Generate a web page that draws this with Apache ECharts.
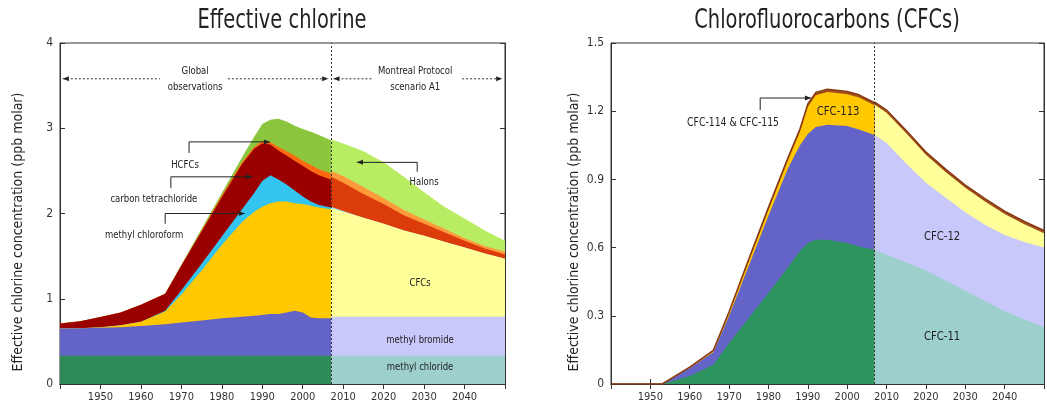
<!DOCTYPE html>
<html>
<head>
<meta charset="utf-8">
<script src="https://cdn.jsdelivr.net/npm/echarts@6/dist/echarts.min.js"></script>
<style>
html,body{margin:0;padding:0;background:#fff}
#main{width:1047px;height:408px}
</style>
</head>
<body>
<div id="main"></div>
<script>
var FONT = "'Liberation Sans Narrow','DejaVu Sans Condensed','Liberation Sans',sans-serif";

// left panel - effective chlorine (ppb), observed part
var leftObsYears = [1940,1945,1950,1955,1960,1966,1970,1975,1980,1985,1988,1990,1992,1994,1996,1998,2000,2002,2004,2007];
var methylChlorideObs = [.33,.33,.33,.33,.33,.33,.33,.33,.33,.33,.33,.33,.33,.33,.33,.33,.33,.33,.33,.33];
var methylBromideObs = [.32,.325,.33,.335,.35,.37,.39,.415,.44,.46,.47,.48,.49,.49,.51,.53,.51,.45,.44,.44];
var cfcObs = [0,0,.005,.025,.05,.15,.33,.585,.86,1.11,1.22,1.27,1.30,1.32,1.30,1.26,1.27,1.31,1.30,1.28];
var methylChloroformObs = [0,0,0,0,0,.01,.05,.08,.10,.15,.22,.30,.33,.26,.2,.15,.09,.05,.03,.02];
var carbonTetObs = [.06,.08,.12,.15,.2,.2,.29,.38,.46,.53,.52,.44,.36,.34,.34,.35,.36,.36,.35,.33];
var hcfcObs = [0,0,0,0,0,0,0,.01,.02,.02,.02,.03,.03,.04,.05,.06,.06,.07,.07,.07];
var halonObs = [0,0,0,0,0,0,.01,.02,.03,.06,.12,.20,.26,.33,.35,.35,.37,.39,.40,.39];

// left panel - scenario A1
var leftProjYears = [2007,2010,2015,2020,2025,2030,2035,2040,2045,2050];
var methylChlorideProj = [.33,.33,.33,.33,.33,.33,.33,.33,.33,.33];
var methylBromideProj = [.46,.46,.46,.46,.46,.46,.46,.46,.46,.46];
var cfcProj = [1.27,1.23,1.16,1.09,1.01,.95,.88,.81,.74,.68];
var methylChloroformProj = [.02,.01,0,0,0,0,0,0,0,0];
var carbonTetProj = [.35,.33,.28,.23,.18,.14,.11,.08,.06,.05];
var hcfcProj = [.07,.08,.08,.07,.06,.05,.04,.03,.03,.03];
var halonProj = [.37,.38,.42,.42,.39,.32,.26,.23,.18,.13];

// right panel - CFCs
var rightObsYears = [1940,1950,1953,1960,1966,1970,1975,1980,1985,1988,1990,1992,1995,2000,2003,2007];
var cfc11Obs = [0,0,0,.035,.085,.18,.29,.40,.515,.585,.62,.635,.635,.62,.605,.59];
var cfc12Obs = [0,0,0,.035,.055,.12,.23,.34,.435,.465,.48,.495,.505,.515,.515,.505];
var cfc113Obs = [0,0,0,.002,.004,.01,.02,.025,.035,.06,.12,.14,.145,.14,.14,.13];
var cfc114Obs = [0,0,0,.002,.004,.008,.01,.012,.012,.012,.012,.012,.012,.012,.012,.012];

var rightProjYears = [2007,2010,2015,2020,2025,2030,2035,2040,2045,2050];
var cfc11Proj = [.59,.57,.535,.5,.455,.41,.365,.32,.285,.25];
var cfc12Proj = [.505,.49,.435,.385,.365,.345,.335,.335,.34,.35];
var cfc113Proj = [.133,.133,.133,.123,.113,.108,.103,.093,.078,.063];
var cfc114Proj = [.012,.012,.012,.012,.012,.012,.012,.012,.012,.012];

var xTicks = [1950,1960,1970,1980,1990,2000,2010,2020,2030,2040];

// stacked layers: sums done here, top layer pushed first so lower ones paint over it
function layers(gi, xs, list) {
    var out = [];
    var cum = [];
    var run = xs.map(function () { return 0; });
    list.forEach(function (l) {
        run = run.map(function (s, i) { return s + l.vals[i]; });
        cum.push(run.slice());
    });
    for (var k = list.length - 1; k >= 0; k--) {
        out.push({
            type: 'line',
            xAxisIndex: gi * 2,
            yAxisIndex: gi * 2,
            symbol: 'none',
            silent: true,
            lineStyle: list[k].line || { width: 0 },
            areaStyle: { color: list[k].color, opacity: 1, origin: 'start' },
            data: xs.map(function (x, i) { return [x, cum[k][i]]; })
        });
    }
    return out;
}

var divider = {
    silent: true,
    symbol: 'none',
    label: { show: false },
    lineStyle: { type: [2, 2], color: '#333', width: 1 },
    data: [{ xAxis: 2007 }]
};

function axisPair(gi, ymax, yint, yfmt) {
    var tick = { inside: true, length: 5, lineStyle: { color: '#333' } };
    var aline = { lineStyle: { color: '#333', width: 1 } };
    var x = [
        { gridIndex: gi, type: 'value', min: 1940, max: 2050, interval: 10, axisLine: aline, axisTick: tick, splitLine: { show: false },
          axisLabel: { color: '#333', fontSize: 11, fontFamily: FONT, margin: 8,
            formatter: function (v) { return xTicks.indexOf(v) >= 0 ? String(v) : ''; } } },
        { gridIndex: gi, type: 'value', position: 'top', min: 1940, max: 2050, interval: 10, axisLine: aline, axisTick: tick,
          axisLabel: { show: false }, splitLine: { show: false } }
    ];
    var y = [
        { gridIndex: gi, type: 'value', min: 0, max: ymax, interval: yint, axisLine: aline, axisTick: tick, splitLine: { show: false },
          axisLabel: { color: '#333', fontSize: 12, fontFamily: FONT, margin: 7, formatter: yfmt } },
        { gridIndex: gi, type: 'value', position: 'right', min: 0, max: ymax, interval: yint, axisLine: aline, axisTick: tick,
          axisLabel: { show: false }, splitLine: { show: false } }
    ];
    return { x: x, y: y };
}

var a0 = axisPair(0, 4, 1, function (v) { return String(v); });
var a1 = axisPair(1, 1.5, 0.3, function (v) { return v === 0 ? '0' : v.toFixed(1); });

var topLine = { width: 1.5, color: '#8a3a12' };

var leftObs = layers(0, leftObsYears, [
    { vals: methylChlorideObs, color: '#2e8b57' },
    { vals: methylBromideObs, color: '#6464c8' },
    { vals: cfcObs, color: '#ffc800' },
    { vals: methylChloroformObs, color: '#33c4f0' },
    { vals: carbonTetObs, color: '#9b0000' },
    { vals: hcfcObs, color: '#ff6a13' },
    { vals: halonObs, color: '#8cc63e' }
]);
var leftProj = layers(0, leftProjYears, [
    { vals: methylChlorideProj, color: '#9dd0cc' },
    { vals: methylBromideProj, color: '#c8c8fa' },
    { vals: cfcProj, color: '#ffff9a' },
    { vals: methylChloroformProj, color: '#a0e4f8' },
    { vals: carbonTetProj, color: '#dc3c0a' },
    { vals: hcfcProj, color: '#ff9a3c' },
    { vals: halonProj, color: '#b8ec62' }
]);
var rightObs = layers(1, rightObsYears, [
    { vals: cfc11Obs, color: '#2e9460' },
    { vals: cfc12Obs, color: '#6464c8' },
    { vals: cfc113Obs, color: '#ffc800' },
    { vals: cfc114Obs, color: '#a0501e', line: topLine }
]);
var rightProj = layers(1, rightProjYears, [
    { vals: cfc11Proj, color: '#9dd0cc' },
    { vals: cfc12Proj, color: '#c8c8fa' },
    { vals: cfc113Proj, color: '#ffff9a' },
    { vals: cfc114Proj, color: '#a0501e', line: topLine }
]);
leftProj[leftProj.length - 1].markLine = divider;
rightProj[rightProj.length - 1].markLine = divider;

var chart = echarts.init(document.getElementById('main'));
chart.setOption({
    animation: false,
    grid: [
        { left: 60, right: 542, top: 43, bottom: 24, show: true, borderColor: '#333', borderWidth: 1 },
        { left: 611, right: 3, top: 43, bottom: 24, show: true, borderColor: '#333', borderWidth: 1 }
    ],
    xAxis: a0.x.concat(a1.x),
    yAxis: a0.y.concat(a1.y),
    series: leftObs.concat(leftProj, rightObs, rightProj)
});

// annotations, placed in data coordinates
var notes = [
    { gi: 0, text: 'HCFCs', at: [1970.9, 2.57], path: [[1971.9, 2.71], [1971.9, 2.84], [1991.9, 2.84]] },
    { gi: 0, text: 'carbon tetrachloride', at: [1963.2, 2.17], path: [[1967.4, 2.30], [1967.4, 2.43], [1987.5, 2.43]] },
    { gi: 0, text: 'methyl chloroform', at: [1960.8, 1.75], path: [[1966, 1.88], [1966, 2.0], [1985.7, 2.0]] },
    { gi: 0, text: 'Halons', at: [2030, 2.37], path: [[2028.3, 2.49], [2028.3, 2.6], [2013.4, 2.6]] },
    { gi: 0, text: 'CFCs', at: [2029, 1.18] },
    { gi: 0, text: 'methyl bromide', at: [2029, 0.52] },
    { gi: 0, text: 'methyl chloride', at: [2029, 0.2] },
    { gi: 1, text: 'CFC-114 & CFC-115', at: [1971, 1.148], path: [[1977.9, 1.205], [1977.9, 1.258], [1990.8, 1.258]], size: 12 },
    { gi: 1, text: 'CFC-113', at: [1997.7, 1.197], size: 13 },
    { gi: 1, text: 'CFC-12', at: [2024.1, 0.647], size: 13 },
    { gi: 1, text: 'CFC-11', at: [2024.1, 0.207], size: 13 }
];
var spans = [
    { gi: 0, y: 3.58, text: 'Global\nobservations', x0: 1940.7, a: 1964.7, tx: 1973.4, b: 1981.5, x1: 2006.3 },
    { gi: 0, y: 3.58, text: 'Montreal Protocol\nscenario A1', x0: 2007.6, a: 2017.4, tx: 2027.8, b: 2039.4, x1: 2049.3 },
    { gi: 1, y: 1.782, text: 'Global\nobservations', x0: 1940.8, a: 1964.4, tx: 1972.8, b: 1981.2, x1: 2006.2 },
    { gi: 1, y: 1.782, text: 'Montreal Protocol\nscenario A1', x0: 2007.6, a: 2016.7, tx: 2026.5, b: 2038.8, x1: 2049.4 }
];

function px(gi, p) {
    return chart.convertToPixel({ xAxisIndex: gi * 2, yAxisIndex: gi * 2 }, p);
}
function head(tip, from) {
    var dx = tip[0] - from[0], dy = tip[1] - from[1];
    var len = Math.sqrt(dx * dx + dy * dy) || 1;
    var ux = dx / len, uy = dy / len;
    var bx = tip[0] - ux * 6, by = tip[1] - uy * 6;
    return { type: 'polygon', silent: true, z: 100,
        shape: { points: [tip, [bx - uy * 2.5, by + ux * 2.5], [bx + uy * 2.5, by - ux * 2.5]] },
        style: { fill: '#222' } };
}
function label(p, text, size, sx, rot) {
    return { type: 'text', x: p[0], y: p[1], silent: true, z: 100,
        scaleX: sx || 0.86, rotation: rot || 0,
        style: { text: text, fill: '#222', fontSize: size || 11, fontFamily: FONT,
            align: 'center', verticalAlign: 'middle', lineHeight: 16 } };
}

var g = [];
// titles and y-axis names
g.push(label([282, 21], 'Effective chlorine', 27, 0.8));
g.push(label([827, 21], 'Chlorofluorocarbons (CFCs)', 27, 0.8));
g.push(label([18, 232], 'Effective chlorine concentration (ppb molar)', 14, 1, Math.PI / 2));
g.push(label([574, 232], 'Effective chlorine concentration (ppb molar)', 14, 1, Math.PI / 2));

notes.forEach(function (n) {
    g.push(label(px(n.gi, n.at), n.text, n.size));
    if (n.path) {
        var pts = n.path.map(function (p) { return px(n.gi, p); });
        g.push({ type: 'polyline', silent: true, z: 100, shape: { points: pts },
            style: { stroke: '#222', lineWidth: 1, fill: null } });
        g.push(head(pts[pts.length - 1], pts[pts.length - 2]));
    }
});
spans.forEach(function (s) {
    var p0 = px(s.gi, [s.x0, s.y]), pa = px(s.gi, [s.a, s.y]);
    var pb = px(s.gi, [s.b, s.y]), p1 = px(s.gi, [s.x1, s.y]);
    [[p0, pa], [pb, p1]].forEach(function (seg) {
        g.push({ type: 'line', silent: true, z: 100,
            shape: { x1: seg[0][0], y1: seg[0][1], x2: seg[1][0], y2: seg[1][1] },
            style: { stroke: '#333', lineWidth: 1, lineDash: [2, 2] } });
    });
    g.push(head(p0, pa));
    g.push(head(p1, pb));
    g.push(label(px(s.gi, [s.tx, s.y]), s.text, 11));
});
chart.setOption({ graphic: g });
</script>
</body>
</html>
